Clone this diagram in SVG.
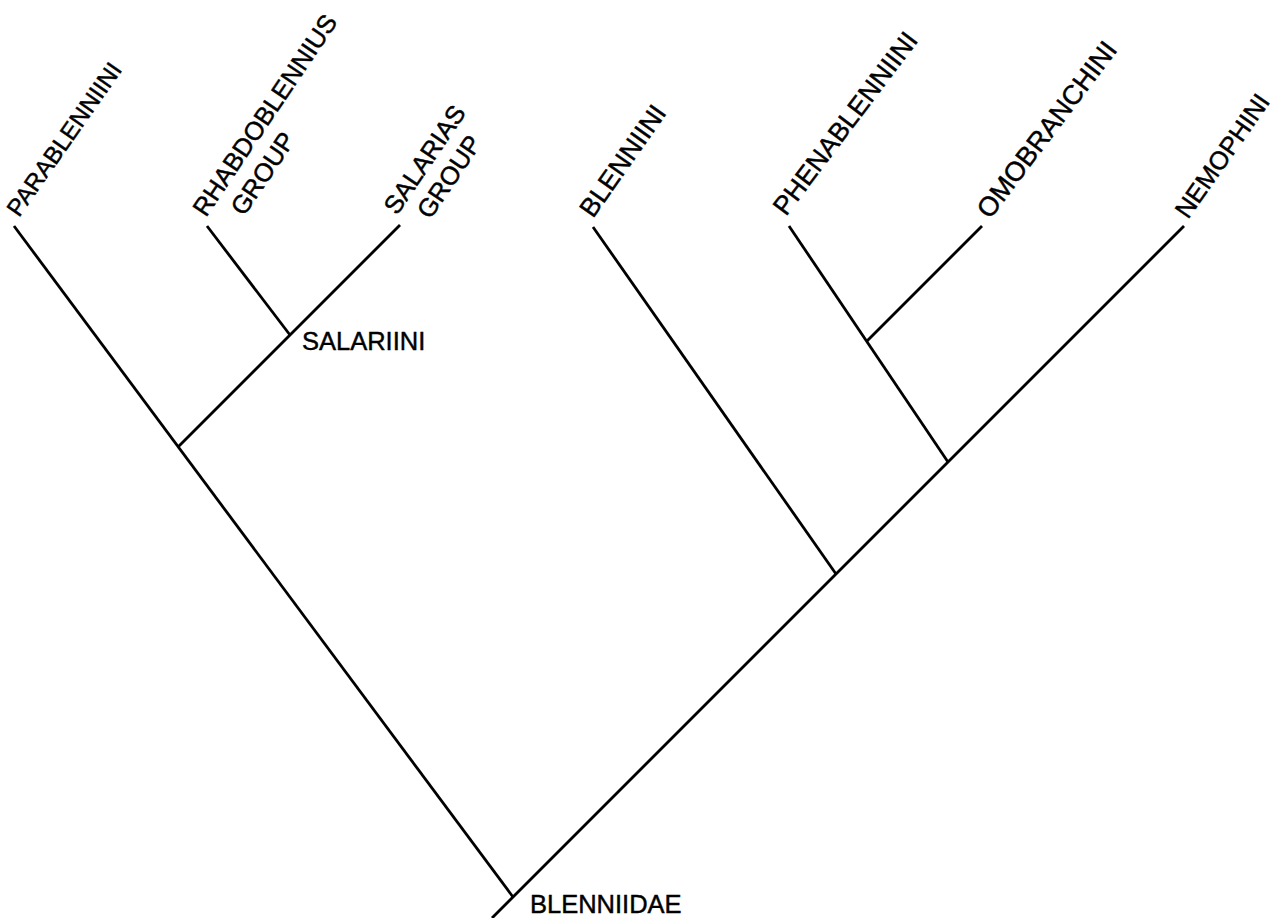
<svg xmlns="http://www.w3.org/2000/svg" width="1280" height="918" viewBox="0 0 1280 918">
<style>
.br{stroke:#000;stroke-width:2.8;fill:none;stroke-linecap:butt}
.lb{font-family:"Liberation Sans",Arial,sans-serif;font-size:25.5px;fill:#000;stroke:#000;stroke-width:0.45}
</style>
<rect width="1280" height="918" fill="#fff"/>
<g id="connectors">
<line class="br" x1="14" y1="226" x2="513" y2="897"/>
<line class="br" x1="492" y1="918" x2="1184" y2="226"/>
<line class="br" x1="400" y1="225" x2="178" y2="447"/>
<line class="br" x1="207" y1="226" x2="290" y2="335"/>
<line class="br" x1="593" y1="227" x2="836" y2="574"/>
<line class="br" x1="789" y1="226" x2="948" y2="462"/>
<line class="br" x1="982" y1="226" x2="867" y2="341"/>
</g>
<g id="parablenniini"><text class="lb" style="font-size:24px" transform="translate(19,218) rotate(-55)">PARABLENNIINI</text></g>
<g id="rhabdoblennius"><text class="lb" transform="translate(206,218) rotate(-56)"><tspan x="0" y="0">RHABDOBLENNIUS</tspan><tspan x="22" y="31">GROUP</tspan></text></g>
<g id="salarias"><text class="lb" transform="translate(397,216) rotate(-56)"><tspan x="0" y="0">SALARIAS</tspan><tspan x="15" y="30">GROUP</tspan></text></g>
<g id="salariini"><text class="lb" x="302" y="350">SALARIINI</text></g>
<g id="blenniini"><text class="lb" style="font-size:26.5px" transform="translate(593,219) rotate(-55)">BLENNIINI</text></g>
<g id="phenablenniini"><text class="lb" style="font-size:26.5px" transform="translate(786,217) rotate(-53)">PHENABLENNIINI</text></g>
<g id="omobranchini"><text class="lb" style="font-size:27px" transform="translate(990,220) rotate(-53)">OMOBRANCHINI</text></g>
<g id="nemophini"><text class="lb" transform="translate(1188,220) rotate(-55)">NEMOPHINI</text></g>
<g id="blenniidae"><text class="lb" x="530" y="913">BLENNIIDAE</text></g>
</svg>
